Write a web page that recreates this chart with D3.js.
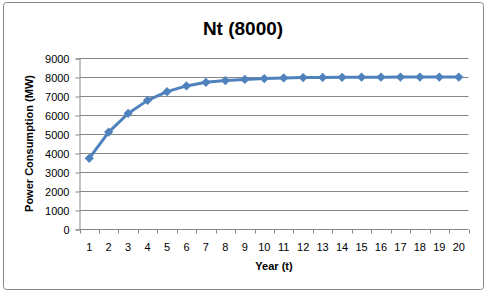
<!DOCTYPE html>
<html>
<head>
<meta charset="utf-8">
<script src="https://cdn.jsdelivr.net/npm/d3@7"></script>
<style>
  body { margin: 0; background: #fff; }
  text { font-family: "Liberation Sans", "DejaVu Sans", sans-serif; }
</style>
</head>
<body>
<div id="chart"></div>
<script>
const years = d3.range(1, 21);
const power = [3720, 5100, 6080, 6770, 7230, 7530, 7720, 7810, 7870, 7920,
               7950, 7970, 7980, 7985, 7990, 7993, 7995, 7997, 7998, 7999];
const yTicks = d3.range(0, 9001, 1000);

const W = 487, H = 293;
const dims = { left: 79.5, right: 468.5, top: 58, bottom: 229 };

const svg = d3.select("#chart").append("svg")
  .attr("width", W).attr("height", H);

svg.append("rect")
  .attr("x", 3.5).attr("y", 2.5).attr("width", 480).attr("height", 287)
  .attr("rx", 3)
  .attr("fill", "#fff").attr("stroke", "#868686");

const x = d3.scaleBand().domain(years).range([dims.left, dims.right]);
const y = d3.scaleLinear().domain([0, 9000]).range([dims.bottom, dims.top]);

// gridlines
svg.append("g").selectAll("line").data(yTicks.slice(1)).join("line")
  .attr("x1", dims.left).attr("x2", dims.right)
  .attr("y1", d => Math.round(y(d)) + 0.5).attr("y2", d => Math.round(y(d)) + 0.5)
  .attr("stroke", "#868686");

// y axis
const yAxis = svg.append("g")
  .attr("transform", `translate(${dims.left},0.5)`)
  .call(d3.axisLeft(y).tickValues(yTicks).tickSize(4).tickPadding(6).tickFormat(d3.format("d")));
yAxis.select(".domain").attr("stroke", "#868686");
yAxis.selectAll(".tick line").attr("stroke", "#868686");
yAxis.selectAll("text").attr("font-size", 11).attr("fill", "#000");

// x axis
const xAxis = svg.append("g")
  .attr("transform", `translate(0,${dims.bottom + 0.5})`);
xAxis.append("line")
  .attr("x1", dims.left).attr("x2", dims.right)
  .attr("stroke", "#868686");
xAxis.selectAll("line.tk").data(d3.range(0, 21)).join("line")
  .attr("class", "tk")
  .attr("x1", i => Math.round(dims.left + i * x.step()) + 0.5)
  .attr("x2", i => Math.round(dims.left + i * x.step()) + 0.5)
  .attr("y1", 0).attr("y2", 4)
  .attr("stroke", "#868686");
xAxis.selectAll("text").data(years).join("text")
  .attr("x", d => x(d) + x.bandwidth() / 2)
  .attr("y", 21)
  .attr("text-anchor", "middle")
  .attr("font-size", 11)
  .text(d => d);

// line
const line = d3.line()
  .x((d, i) => x(years[i]) + x.bandwidth() / 2)
  .y(d => y(d));
svg.append("path")
  .datum(power)
  .attr("d", line)
  .attr("fill", "none")
  .attr("stroke", "#4F81BD")
  .attr("stroke-width", 3)
  .attr("stroke-linejoin", "round");

svg.append("g").selectAll("path").data(power).join("path")
  .attr("transform", (d, i) => `translate(${x(years[i]) + x.bandwidth() / 2},${y(d)})`)
  .attr("d", d3.symbol(d3.symbolDiamond2, 55)())
  .attr("fill", "#4F81BD");

// titles
svg.append("text")
  .attr("x", 243).attr("y", 35)
  .attr("text-anchor", "middle")
  .attr("font-size", 19).attr("font-weight", "bold")
  .text("Nt (8000)");

svg.append("text")
  .attr("x", 274).attr("y", 270)
  .attr("text-anchor", "middle")
  .attr("font-size", 11).attr("font-weight", "bold")
  .text("Year (t)");

svg.append("text")
  .attr("transform", `translate(33,${(dims.top + dims.bottom) / 2}) rotate(-90)`)
  .attr("text-anchor", "middle")
  .attr("font-size", 11).attr("font-weight", "bold")
  .text("Power Consumption (MW)");
</script>
</body>
</html>
